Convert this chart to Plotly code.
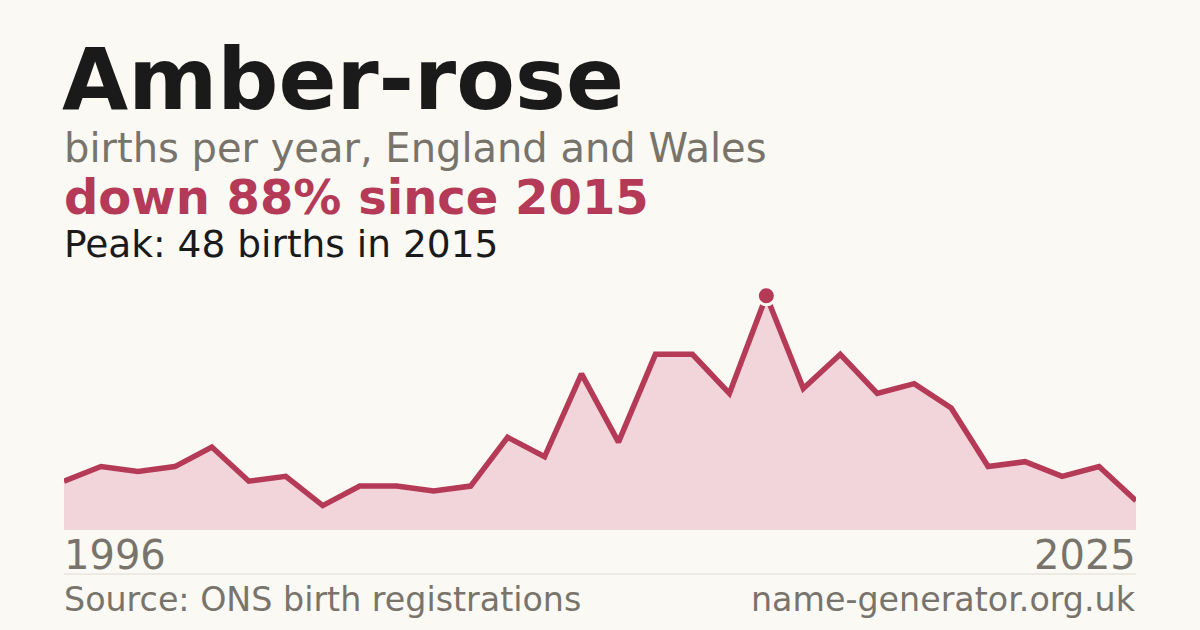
import plotly.graph_objects as go

# data
years = list(range(1996, 2026))
births = [10, 13, 12, 13, 17, 10, 11, 5, 9, 9,
          8, 9, 19, 15, 32, 18, 36, 36, 28, 48,
          29, 36, 28, 30, 25, 13, 14, 11, 13, 6]

peak_year = 2015
peak_value = 48

title = "Amber-rose"
subtitle = "births per year, England and Wales"
headline = "down 88% since 2015"
peak_text = "Peak: 48 births in 2015"
source_text = "Source: ONS birth registrations"
site_text = "name-generator.org.uk"

BG = "#faf9f4"
RED = "#b43a57"
FILL = "#f2d5da"
GREY = "#78746c"
INK = "#1a1a1a"
FONT = "DejaVu Sans"

W, H = 1200, 630
LEFT, RIGHT = 64, 1136
BOTTOM, TOP = 530, 286.25


def px_x(x):
    return (x - LEFT) / (RIGHT - LEFT)


def px_y(y):
    return (BOTTOM - y) / (BOTTOM - TOP)


fig = go.Figure()
fig.add_trace(go.Scatter(
    x=years, y=births, mode="lines",
    line=dict(color=RED, width=5.5),
    fill="tozeroy", fillcolor=FILL,
    hoverinfo="skip",
))
fig.add_trace(go.Scatter(
    x=[peak_year], y=[peak_value], mode="markers",
    marker=dict(size=18, color=RED, line=dict(color=BG, width=3)),
    hoverinfo="skip",
))


def label(text, x, y, size, color, bold=False, xanchor="left"):
    fig.add_annotation(
        text=f"<b>{text}</b>" if bold else text,
        x=px_x(x), y=px_y(y), xref="paper", yref="paper",
        xanchor=xanchor, yanchor="middle", showarrow=False,
        font=dict(family=FONT, size=size, color=color),
    )


label(title, 60, 80, 85.5, INK, bold=True)
label(subtitle, 62, 148, 40, GREY)
label(headline, 62, 197, 48, RED, bold=True)
label(peak_text, 62, 244, 37.5, INK)
label(str(years[0]), 62, 555, 40, GREY)
label(str(years[-1]), 1138, 555, 40, GREY, xanchor="right")
label(source_text, 62, 599, 33.3, GREY)
label(site_text, 1138, 599, 33.3, GREY, xanchor="right")

fig.add_shape(type="line", xref="paper", yref="paper",
              x0=0, x1=1, y0=px_y(574), y1=px_y(574),
              line=dict(color="#dedbd3", width=1))

fig.update_layout(
    width=W, height=H,
    margin=dict(l=LEFT, r=W - RIGHT, t=TOP, b=H - BOTTOM),
    paper_bgcolor=BG, plot_bgcolor=BG,
    showlegend=False,
    xaxis=dict(range=[years[0], years[-1]], visible=False, fixedrange=True),
    yaxis=dict(range=[0, 50], visible=False, fixedrange=True),
)

fig.write_html("out.html", config={"displayModeBar": False},
               post_script="document.body.style.margin='0';")
